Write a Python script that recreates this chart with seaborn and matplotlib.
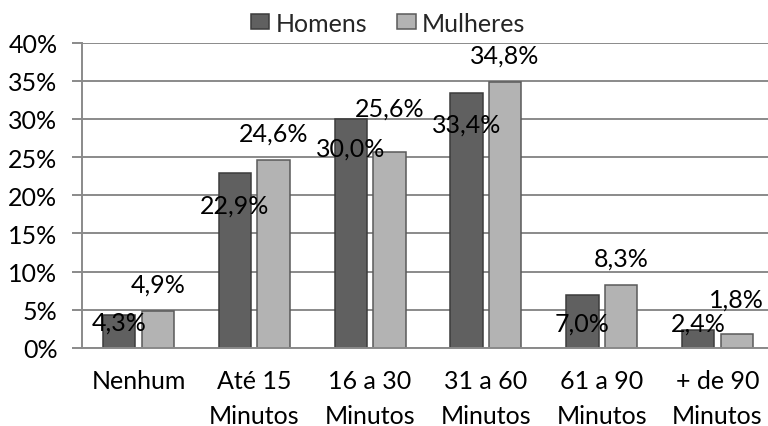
import numpy as np
import matplotlib
matplotlib.use("Agg")
import matplotlib.pyplot as plt
import pandas as pd
import seaborn as sns

# data
categorias = ["Nenhum", "Até 15\nMinutos", "16 a 30\nMinutos",
              "31 a 60\nMinutos", "61 a 90\nMinutos", "+ de 90\nMinutos"]
homens = [4.3, 22.9, 30.0, 33.4, 7.0, 2.4]
mulheres = [4.9, 24.6, 25.6, 34.8, 8.3, 1.8]
series = ["Homens", "Mulheres"]

# vertical offset of each value label from the bar top (pixels, + is above)
off_homens = [-7, -32, -29, -31, -29, 7]
off_mulheres = [26, 27, 44, 27, 27, 35]

sns.set_theme(style="white")
plt.rcParams['font.family'] = ['Lato', 'DejaVu Sans']
fs = 18

df = pd.DataFrame({
    "cat": categorias * 2,
    "valor": homens + mulheres,
    "sexo": [series[0]] * len(homens) + [series[1]] * len(mulheres),
})

fig = plt.figure(figsize=(7.68, 4.27), dpi=100)
ax = fig.add_axes([82 / 768, 1 - 349 / 427, 1 - 82 / 768, (349 - 43.5) / 427])

sns.barplot(data=df, x="cat", y="valor", hue="sexo",
            palette=["#606060", "#b3b3b3"], width=0.665, gap=0.158,
            saturation=1, ax=ax, legend=True)

edge_cols = ["#3c3c3c", "#5a5a5a"]
for cont, ec in zip(ax.containers, edge_cols):
    for p in cont:
        p.set_edgecolor(ec)
        p.set_linewidth(1.1)

# value labels
for cont, offs in zip(ax.containers, [off_homens, off_mulheres]):
    for p, dy in zip(cont, offs):
        v = p.get_height()
        ax.annotate(f"{v:.1f}".replace(".", ",") + "%",
                    (p.get_x() + p.get_width() / 2, v),
                    xytext=(0, dy), textcoords="offset pixels",
                    ha="center", va="center", fontsize=fs, color="black")

ax.set_ylim(0, 40)
ax.set_yticks(np.arange(0, 41, 5))
ax.set_yticklabels([f"{t}%" for t in range(0, 41, 5)])
ax.set_xlim((82 - 138.5) / 115.8, (768 - 138.5) / 115.8)
ax.set_xlabel("")
ax.set_ylabel("")

ax.yaxis.grid(True, color="#8a8a8a", linewidth=1.4)
ax.set_axisbelow(True)
for s in ["top", "right"]:
    ax.spines[s].set_visible(False)
for s in ["left", "bottom"]:
    ax.spines[s].set_color("#8a8a8a")
    ax.spines[s].set_linewidth(1.4)

ax.tick_params(axis="y", length=7.2, width=1.4, color="#8a8a8a",
               pad=10.5, labelsize=fs, labelcolor="black", left=True)
ax.tick_params(axis="x", length=0, pad=15, labelsize=fs, labelcolor="black")
for lab in ax.get_xticklabels():
    lab.set_linespacing(1.65)

leg = ax.legend(loc="center", bbox_to_anchor=(388 / 768, 1 - 24 / 427),
                bbox_transform=fig.transFigure, ncol=2, frameon=False,
                fontsize=fs, handlelength=0.75, handleheight=0.55,
                handletextpad=0.25, columnspacing=1.2, borderpad=0)
for h, ec in zip(leg.legend_handles, edge_cols):
    h.set_edgecolor(ec)
    h.set_linewidth(1.1)

fig.savefig("out.png", dpi=100)
